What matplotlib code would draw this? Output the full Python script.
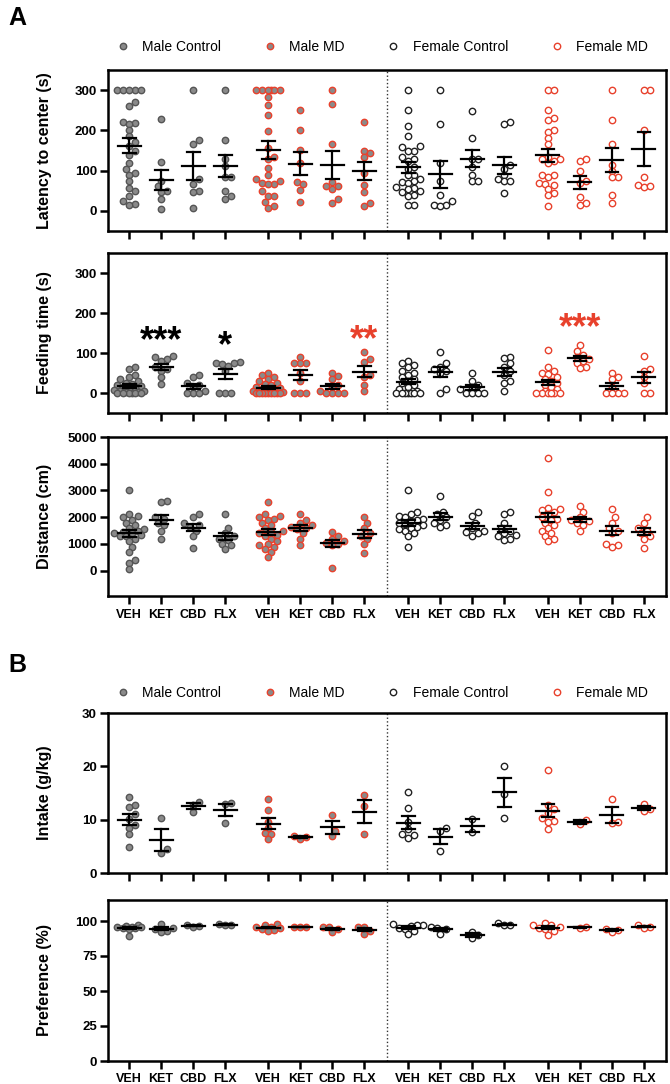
import numpy as np
import matplotlib
matplotlib.use('Agg')
import matplotlib.pyplot as plt
from matplotlib.lines import Line2D

plt.rcParams['font.family'] = ['Liberation Sans', 'DejaVu Sans']

drugs = ['VEH', 'KET', 'CBD', 'FLX']
groups = ['Male Control', 'Male MD', 'Female Control', 'Female MD']

# latency to center (s): group -> list per drug
latency = {
    'Male Control': [[300, 300, 300, 300, 300, 270, 260, 222, 218, 215, 200, 185, 170, 160, 150, 140, 120, 103, 95, 90, 75, 57, 50, 38, 25, 18, 15],
                     [228, 122, 75, 62, 50, 48, 30, 5],
                     [300, 175, 165, 78, 68, 50, 48, 7],
                     [300, 177, 130, 112, 85, 85, 50, 37, 30]],
    'Male MD': [[300, 300, 300, 300, 300, 300, 282, 262, 238, 198, 155, 135, 128, 106, 88, 80, 75, 70, 68, 68, 50, 38, 38, 22, 12, 8],
                [250, 202, 152, 120, 72, 66, 53, 22],
                [300, 265, 165, 72, 62, 62, 55, 30, 20],
                [220, 150, 145, 133, 95, 65, 48, 20, 12]],
    'Female Control': [[300, 250, 210, 185, 160, 158, 150, 148, 135, 130, 125, 110, 105, 90, 88, 80, 75, 72, 70, 60, 58, 55, 50, 48, 40, 38, 15, 15],
                       [300, 215, 120, 75, 40, 25, 15, 15, 12],
                       [248, 180, 130, 130, 110, 90, 75, 75],
                       [222, 215, 115, 105, 90, 80, 75, 75, 45]],
    'Female MD': [[300, 300, 250, 230, 225, 200, 195, 180, 165, 135, 130, 128, 125, 120, 90, 88, 85, 70, 68, 65, 55, 45, 40, 13],
                  [125, 128, 100, 75, 70, 35, 15, 20],
                  [300, 225, 165, 115, 100, 85, 85, 40, 20],
                  [300, 300, 200, 85, 65, 60, 62]],
}

feeding = {
    'Male Control': [[65, 60, 45, 40, 35, 30, 25, 22, 20, 18, 15, 12, 10, 8, 5, 5, 3, 2, 0, 0, 0, 0, 0, 0],
                     [92, 90, 85, 80, 65, 60, 55, 40, 22],
                     [45, 40, 25, 20, 15, 5, 0, 0, 0],
                     [78, 75, 75, 72, 68, 55, 0, 0, 0]],
    'Male MD': [[50, 45, 40, 35, 30, 25, 22, 20, 15, 12, 10, 10, 8, 5, 3, 0, 0, 0, 0, 0, 0, 0, 0, 0],
                [90, 75, 75, 75, 50, 30, 0, 0, 0],
                [50, 42, 35, 20, 15, 5, 0, 0, 0, 0],
                [102, 85, 78, 45, 40, 20, 5]],
    'Female Control': [[80, 75, 70, 65, 55, 50, 45, 40, 35, 30, 25, 20, 15, 10, 5, 0, 0, 0, 0, 0, 0, 0],
                       [102, 75, 65, 60, 55, 50, 10, 0],
                       [50, 30, 20, 15, 10, 0, 0, 0, 0],
                       [90, 88, 75, 65, 55, 45, 30, 25, 5]],
    'Female MD': [[108, 65, 55, 50, 48, 40, 35, 30, 25, 20, 15, 10, 5, 0, 0, 0, 0, 0, 0],
                  [120, 105, 95, 90, 85, 80, 75, 65, 62],
                  [50, 40, 35, 15, 0, 0, 0, 0],
                  [92, 60, 55, 40, 25, 0, 0]],
}

distance = {
    'Male Control': [[3000, 2100, 2050, 2000, 1900, 1800, 1700, 1600, 1550, 1500, 1450, 1400, 1400, 1350, 1300, 1300, 1200, 1100, 900, 700, 400, 300, 50],
                     [2600, 2550, 2000, 1950, 1800, 1700, 1500, 1200],
                     [2100, 2000, 1800, 1700, 1650, 1500, 1300, 850],
                     [2100, 1600, 1400, 1300, 1200, 1150, 1000, 950, 800]],
    'Male MD': [[2550, 2100, 2050, 2000, 1950, 1900, 1800, 1700, 1600, 1500, 1450, 1400, 1350, 1300, 1200, 1100, 1000, 950, 900, 800, 700, 500],
                [2100, 1900, 1800, 1700, 1650, 1600, 1550, 1400, 1200, 950],
                [1450, 1300, 1200, 1100, 1050, 1000, 950, 100],
                [2000, 1800, 1600, 1400, 1300, 1200, 1000, 650]],
    'Female Control': [[3000, 2200, 2100, 2050, 2000, 1950, 1900, 1850, 1800, 1750, 1700, 1650, 1600, 1550, 1500, 1400, 1300, 900],
                       [2800, 2200, 2100, 2000, 1900, 1800, 1700, 1650],
                       [2200, 2050, 1800, 1600, 1500, 1450, 1400, 1300],
                       [2200, 2100, 1800, 1600, 1500, 1400, 1350, 1300, 1200, 1150]],
    'Female MD': [[4200, 2950, 2350, 2300, 2250, 2200, 2100, 2000, 1950, 1900, 1800, 1700, 1600, 1500, 1400, 1300, 1200, 1100],
                  [2400, 2200, 2000, 1900, 1850, 1800, 1700, 1500],
                  [2300, 2000, 1800, 1600, 1500, 1400, 1000, 950, 900],
                  [2000, 1800, 1600, 1500, 1400, 1300, 1200, 850]],
}

intake = {
    'Male Control': [[14.2, 12.7, 12.3, 11.0, 10.2, 9.0, 8.5, 7.3, 4.8], [10.4, 4.5, 3.8], [13.4, 12.8, 11.4], [13.1, 12.9, 9.4]],
    'Male MD': [[13.8, 11.9, 9.6, 8.5, 7.5, 7.3, 6.3], [7.0, 6.8, 6.4], [10.9, 7.9, 6.9], [14.6, 12.6, 7.3]],
    'Female Control': [[15.2, 12.1, 9.6, 8.2, 7.3, 7.1, 6.5], [8.5, 7.8, 4.1], [10.1, 7.6], [20.0, 14.9, 10.4]],
    'Female MD': [[19.4, 12.8, 12.0, 11.2, 10.4, 9.7, 9.6, 8.2], [9.9, 9.1], [13.8, 9.5, 9.4], [13.0, 12.0, 11.6]],
}

preference = {
    'Male Control': [[97, 96.5, 96, 96, 95.5, 95, 95, 94.5, 89.5], [98, 95, 94, 93, 92.5], [97, 96.5, 96], [98, 97.5, 97]],
    'Male MD': [[98, 97, 96, 96, 95, 94, 93.5, 93], [96, 96, 95.5], [96, 95.5, 94, 92], [96, 95.5, 93, 91]],
    'Female Control': [[98, 97.5, 97, 96.5, 95, 94, 93, 90.5], [96, 95, 94, 91], [92.5, 90, 88], [98.5, 97, 97]],
    'Female MD': [[98.5, 97.5, 97, 96, 95, 94, 93, 90], [96, 95], [94.5, 93.5, 92.5], [97, 96, 95]],
}

RED = '#e8412c'
GRAY = '#8a8a8a'
styles = {
    'Male Control': dict(mfc=GRAY, mec='#555555'),
    'Male MD': dict(mfc=GRAY, mec=RED),
    'Female Control': dict(mfc='white', mec='#222222'),
    'Female MD': dict(mfc='white', mec=RED),
}
MS = 4.6

W, H = 670, 1084
fig = plt.figure(figsize=(W / 100, H / 100), dpi=100)


def make_ax(top, bottom):
    return fig.add_axes([108 / W, 1 - bottom / H, (666 - 108) / W, (bottom - top) / H])


group_off = [0, 4.35, 8.72, 13.09]
positions = [g + d for g in group_off for d in range(4)]


def swarm(ax, x0, vals, dpx=6.0, maxpx=15):
    pts = ax.transData.transform(np.column_stack([np.full(len(vals), x0), vals]))
    ys = pts[:, 1]
    order = np.argsort(ys)
    placed = []
    xs = np.zeros(len(vals))
    cands = [0.0]
    k = 1
    while k * dpx * 0.5 <= maxpx:
        cands += [k * dpx * 0.5, -k * dpx * 0.5]
        k += 1
    for i in order:
        best, bestd = 0.0, -1
        for c in cands:
            d = min([np.hypot(c - px, ys[i] - py) for px, py in placed] or [1e9])
            if d >= dpx * 0.95:
                best = c
                break
            if d > bestd:
                best, bestd = c, d
        placed.append((best, ys[i]))
        xs[i] = best
    px_per_unit = ax.transData.transform((1, 0))[0] - ax.transData.transform((0, 0))[0]
    return x0 + xs / px_per_unit


def panel(ax, data, ylim, yticks, ylabel, xlabels):
    ax.set_xlim(-0.66, 16.78)
    ax.set_ylim(*ylim)
    for gi, g in enumerate(groups):
        for di in range(4):
            x0 = positions[gi * 4 + di]
            vals = np.array(data[g][di], dtype=float)
            xs = swarm(ax, x0, vals)
            ax.plot(xs, vals, 'o', ms=MS, mew=1.0, ls='none', zorder=3, **styles[g])
            m = vals.mean()
            se = vals.std(ddof=1) / np.sqrt(len(vals))
            ax.plot([x0 - 0.36, x0 + 0.36], [m, m], color='black', lw=1.6, zorder=4)
            ax.plot([x0, x0], [m - se, m + se], color='black', lw=1.6, zorder=4)
            for v in (m - se, m + se):
                ax.plot([x0 - 0.2, x0 + 0.2], [v, v], color='black', lw=1.6, zorder=4)
    ax.axvline(8.06, color='#333333', ls=':', lw=1)
    ax.set_yticks(yticks)
    ax.set_xticks(positions)
    ax.set_xticklabels(drugs * 4 if xlabels else [])
    for s in ax.spines.values():
        s.set_linewidth(1.8)
    ax.tick_params(direction='out', length=6, width=1.8, labelsize=9.5, pad=2)
    ax.tick_params(axis='x', labelsize=9, pad=3)
    for lab in ax.get_xticklabels() + ax.get_yticklabels():
        lab.set_fontweight('bold')
    ax.set_ylabel(ylabel, fontsize=11.5, fontweight='bold')
    ax.yaxis.set_label_coords(-0.1, 0.5)


ax1 = make_ax(70, 231)
panel(ax1, latency, (-50, 350), [0, 100, 200, 300], 'Latency to center (s)', False)
ax2 = make_ax(253, 413)
panel(ax2, feeding, (-50, 350), [0, 100, 200, 300], 'Feeding time (s)', False)
star = dict(ha='center', va='center', fontsize=26, fontweight='bold')
ax2.text(positions[1], 128, '***', **star)
ax2.text(positions[3], 115, '*', **star)
ax2.text(positions[7], 130, '**', color=RED, **star)
ax2.text(positions[13], 160, '***', color=RED, **star)
ax3 = make_ax(437, 596)
panel(ax3, distance, (-950, 5000), [0, 1000, 2000, 3000, 4000, 5000], 'Distance (cm)', True)
ax4 = make_ax(713, 873)
panel(ax4, intake, (0, 30), [0, 10, 20, 30], 'Intake (g/kg)', False)
ax5 = make_ax(900, 1061)
panel(ax5, preference, (0, 115), [0, 25, 50, 75, 100], 'Preference (%)', True)

handles = [Line2D([], [], marker='o', ls='none', ms=MS, mew=1.0, **styles[g]) for g in groups]
for ly in (47, 693):
    fig.legend(handles, groups, loc='center', bbox_to_anchor=(0.57, 1 - ly / H), ncol=4,
               frameon=False, fontsize=10, columnspacing=3.0, handletextpad=0.9, handlelength=1)

fig.text(8 / W, 1 - 18 / H, 'A', fontsize=18, fontweight='bold', va='center')
fig.text(8 / W, 1 - 665 / H, 'B', fontsize=18, fontweight='bold', va='center')

fig.savefig('out.png', dpi=100)
